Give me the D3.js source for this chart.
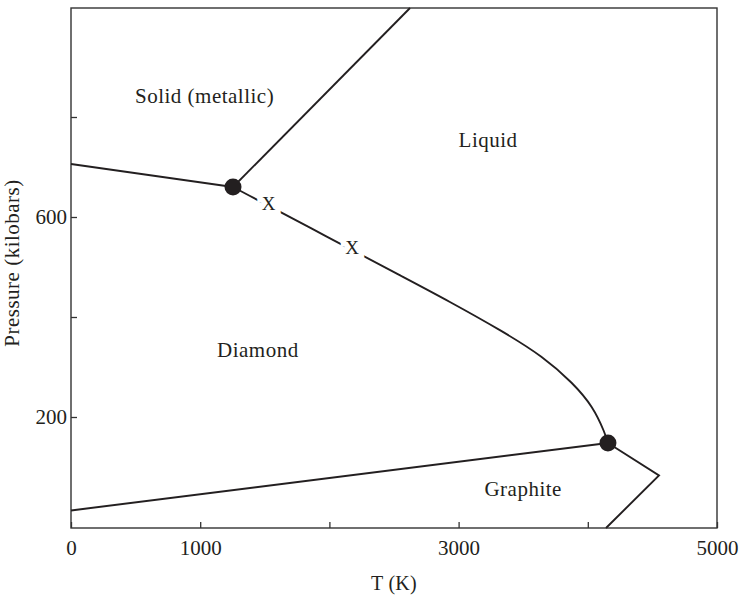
<!DOCTYPE html>
<html>
<head>
<meta charset="utf-8">
<script src="https://cdn.jsdelivr.net/npm/d3@7"></script>
<style>
  html, body { margin: 0; padding: 0; background: #fff; }
  svg { display: block; }
  text { font-family: "Liberation Serif", "DejaVu Serif", serif; fill: #231f20; }
</style>
</head>
<body>
<svg id="chart" width="739" height="596"></svg>
<script>
// ---- data (T in K, P in kilobars) ----
const xTicks = [0, 1000, 2000, 3000, 4000, 5000];
const xTickLabels = ["0", "1000", "", "3000", "", "5000"];
const yTicks = [200, 400, 600, 800];
const yTickLabels = ["200", "", "600", ""];

// phase boundaries
const diamondGraphite = [[0, 13], [4156, 148]];
const metallicDiamond = [[0, 706], [1254, 660]];
const metallicLiquid = [[1254, 660], [2624, 1018]];
const graphiteLiquid = [[4156, 148], [4551, 83], [4141, -22]];
const diamondLiquid = [[1254, 660], [2000, 558], [2600, 476], [2908, 434], [3344, 371], [3653, 321], [3885, 268], [4040, 221], [4133, 168], [4156, 148]];
const triplePoints = [[1254, 660], [4156, 148]];
const xMarks = [[1530, 627], [2175, 539]];
const regionLabels = ["Solid (metallic)", "Liquid", "Diamond", "Graphite"];
const regionLabelT = [495, 3000, 1130, 3200];
const regionLabelP = [828, 740, 320, 42];

// ---- layout ----
const svg = d3.select("#chart");
const mLeft = 71, mRight = 717, mTop = 8, mBottom = 528;
const x = d3.scaleLinear().domain([0, 5000]).range([mLeft, mRight]);
const y = d3.scaleLinear().domain([-22, 1018]).range([mBottom, mTop]);
const ink = "#231f20";

// frame
svg.append("rect").attr("x", mLeft).attr("y", mTop)
  .attr("width", mRight - mLeft).attr("height", mBottom - mTop)
  .attr("fill", "none").attr("stroke", "#333").attr("stroke-width", 1.4);

// axes
const xAxis = d3.axisBottom(x).tickValues(xTicks)
  .tickFormat((d, i) => xTickLabels[i]).tickSizeInner(-6).tickSizeOuter(0).tickPadding(12);
const gx = svg.append("g").attr("transform", `translate(0,${mBottom})`).call(xAxis);
const yAxis = d3.axisLeft(y).tickValues(yTicks)
  .tickFormat((d, i) => yTickLabels[i]).tickSizeInner(-6).tickSizeOuter(0).tickPadding(4);
const gy = svg.append("g").attr("transform", `translate(${mLeft},0)`).call(yAxis);
[gx, gy].forEach(g => {
  g.select(".domain").remove();
  g.selectAll(".tick line").attr("stroke", "#333").attr("stroke-width", 1.3);
  g.selectAll(".tick text").style("font-family", "'Liberation Serif', serif")
    .style("font-size", "21px").attr("fill", ink);
});

// axis titles
svg.append("text").attr("x", (mLeft + mRight) / 2).attr("y", 590)
  .attr("text-anchor", "middle").style("font-size", "20px").style("letter-spacing", "0.3px").text("T (K)");
svg.append("text").attr("transform", `translate(19,263) rotate(-90)`)
  .attr("text-anchor", "middle").style("font-size", "21px").style("letter-spacing", "0.5px")
  .text("Pressure (kilobars)");

// boundaries
const lineStraight = d3.line().x(d => x(d[0])).y(d => y(d[1]));
const lineCurve = d3.line().x(d => x(d[0])).y(d => y(d[1])).curve(d3.curveBasis);
[diamondGraphite, metallicDiamond, metallicLiquid, graphiteLiquid].forEach(seg => {
  svg.append("path").attr("d", lineStraight(seg)).attr("fill", "none")
    .attr("stroke", ink).attr("stroke-width", 1.9);
});
svg.append("path").attr("d", lineCurve(diamondLiquid)).attr("fill", "none")
  .attr("stroke", ink).attr("stroke-width", 1.9);

// X marks with white halo breaking the line
svg.selectAll("text.xmark").data(xMarks).join("text").attr("class", "xmark")
  .attr("x", d => x(d[0])).attr("y", d => y(d[1]))
  .attr("text-anchor", "middle").attr("dy", "0.35em")
  .style("font-size", "19px")
  .attr("stroke", "#fff").attr("stroke-width", 11).attr("paint-order", "stroke")
  .text("X");

// triple points
svg.selectAll("circle.tp").data(triplePoints).join("circle").attr("class", "tp")
  .attr("cx", d => x(d[0])).attr("cy", d => y(d[1])).attr("r", 8.5).attr("fill", ink);

// region labels
svg.selectAll("text.region").data(regionLabels).join("text").attr("class", "region")
  .attr("x", (d, i) => x(regionLabelT[i])).attr("y", (d, i) => y(regionLabelP[i]))
  .style("font-size", "21px").style("letter-spacing", "0.5px").text(d => d);
</script>
</body>
</html>
